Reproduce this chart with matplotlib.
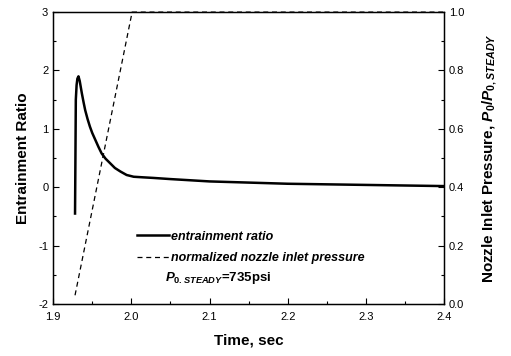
import matplotlib
matplotlib.use("Agg")
import matplotlib.pyplot as plt
from matplotlib.ticker import MultipleLocator

plt.rcParams['font.family'] = ['Liberation Sans', 'DejaVu Sans']
plt.rcParams['axes.unicode_minus'] = False
plt.rcParams['mathtext.fontset'] = 'custom'
plt.rcParams['mathtext.it'] = 'Liberation Sans:italic:bold'
plt.rcParams['mathtext.rm'] = 'Liberation Sans:bold'

# entrainment ratio (left axis)
t_ratio = [1.928, 1.9285, 1.929, 1.930, 1.931, 1.9324, 1.934, 1.9367, 1.939, 1.941,
           1.944, 1.947, 1.950, 1.954, 1.958, 1.962, 1.967, 1.973, 1.979, 1.986,
           1.994, 2.003, 2.015, 2.028, 2.050, 2.100, 2.150, 2.200, 2.250, 2.300,
           2.350, 2.400]
ratio = [-0.45, 0.50, 1.50, 1.75, 1.86, 1.90, 1.82, 1.61, 1.45, 1.32,
         1.17, 1.04, 0.93, 0.81, 0.69, 0.58, 0.49, 0.41, 0.33, 0.27,
         0.21, 0.18, 0.17, 0.16, 0.14, 0.10, 0.08, 0.06, 0.05, 0.04,
         0.03, 0.02]

# normalized nozzle inlet pressure (right axis)
t_press = [1.928, 2.001, 2.400]
press = [0.03, 1.0, 1.0]

fig = plt.figure(figsize=(5.11, 3.56), dpi=100)
ax = fig.add_axes([0.104, 0.146, 0.765, 0.820])
ax2 = ax.twinx()

l1, = ax.plot(t_ratio, ratio, color='black', lw=1.8)
l2, = ax2.plot(t_press, press, color='black', lw=0.9, dashes=(4, 3), clip_on=False)

ax.set_xlim(1.9, 2.4)
ax.set_ylim(-2, 3)
ax2.set_ylim(0, 1.0)

ax.xaxis.set_major_locator(MultipleLocator(0.1))
ax.xaxis.set_minor_locator(MultipleLocator(0.05))
ax.yaxis.set_major_locator(MultipleLocator(1))
ax.yaxis.set_minor_locator(MultipleLocator(0.5))
ax2.yaxis.set_major_locator(MultipleLocator(0.2))
ax2.yaxis.set_minor_locator(MultipleLocator(0.1))

ax.set_xticks([1.9, 2.0, 2.1, 2.2, 2.3, 2.4])
ax.set_xticklabels(['1.9', '2.0', '2.1', '2.2', '2.3', '2.4'])
ax2.set_yticks([0.0, 0.2, 0.4, 0.6, 0.8, 1.0])
ax2.set_yticklabels(['0.0', '0.2', '0.4', '0.6', '0.8', '1.0'])

for a in (ax, ax2):
    a.tick_params(which='both', direction='in', labelsize=8, width=0.8)
    a.tick_params(which='major', length=4)
    a.tick_params(which='minor', length=2)
ax.tick_params(axis='x', pad=6)
ax.tick_params(axis='y', which='both', right=False)
ax2.tick_params(axis='y', which='both', left=False)
ax.tick_params(axis='x', which='both', top=False)

for s in ax.spines.values():
    s.set_linewidth(1.0)

ax.set_xlabel('Time, sec', fontsize=11, fontweight='bold', labelpad=8)
ax.set_ylabel('Entrainment Ratio', fontsize=11, fontweight='bold', labelpad=6)
ax2.set_ylabel(r'Nozzle Inlet Pressure, $P_0/P_{0,STEADY}$',
               fontsize=11, fontweight='bold', labelpad=12)

leg = ax.legend([l1, l2], ['entrainment ratio', 'normalized nozzle inlet pressure'],
                loc='upper left', bbox_to_anchor=(0.185, 0.29), frameon=False,
                handlelength=2.6, handletextpad=0.15, labelspacing=0.75,
                prop={'size': 9, 'weight': 'bold', 'style': 'italic'})
ax.text(0.285, 0.09, r'$P_{0.STEADY}$=735psi', transform=ax.transAxes,
        fontsize=9.5, fontweight='bold', va='center')

fig.savefig('out.png', dpi=100)
